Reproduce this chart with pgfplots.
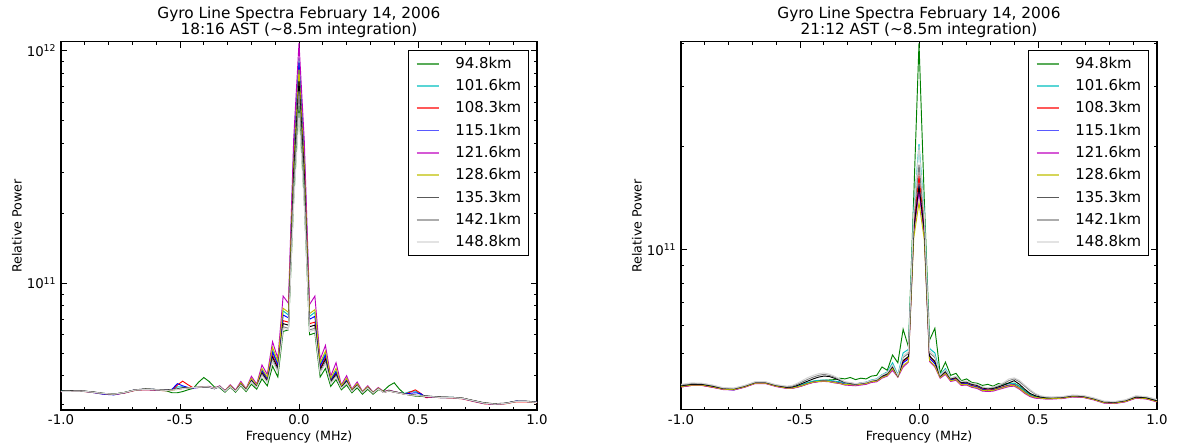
\documentclass[border=0pt]{standalone}
\usepackage{fontspec}
\setmainfont{DejaVu Sans}
\usepackage{pgfplots}
\usepackage{pgfplotstable}
\pgfplotsset{compat=1.18}

\definecolor{mplgreen}{rgb}{0,0.5,0}
\definecolor{mplcyan}{rgb}{0,0.75,0.75}
\definecolor{mplred}{rgb}{1,0,0}
\definecolor{mplblue}{rgb}{0,0,1}
\definecolor{mplmag}{rgb}{0.75,0,0.75}
\definecolor{mplyel}{rgb}{0.75,0.75,0}
\definecolor{mplgray}{rgb}{0.5,0.5,0.5}
\definecolor{mpllgray}{rgb}{0.83,0.83,0.83}

% 18:16 AST spectra, one column per altitude
\pgfplotstableread{
f g c r b m yl bk gr lg
-1.0000 3.43e10 3.44e10 3.42e10 3.43e10 3.42e10 3.43e10 3.44e10 3.43e10 3.42e10
-0.9556 3.44e10 3.45e10 3.44e10 3.44e10 3.43e10 3.44e10 3.45e10 3.44e10 3.43e10
-0.9111 3.44e10 3.44e10 3.43e10 3.44e10 3.44e10 3.44e10 3.44e10 3.43e10 3.44e10
-0.8667 3.40e10 3.40e10 3.39e10 3.39e10 3.40e10 3.40e10 3.41e10 3.40e10 3.40e10
-0.8222 3.36e10 3.35e10 3.34e10 3.33e10 3.35e10 3.35e10 3.36e10 3.35e10 3.36e10
-0.7778 3.33e10 3.33e10 3.32e10 3.31e10 3.32e10 3.33e10 3.33e10 3.34e10 3.33e10
-0.7333 3.38e10 3.39e10 3.37e10 3.38e10 3.38e10 3.39e10 3.39e10 3.38e10 3.39e10
-0.6889 3.47e10 3.48e10 3.46e10 3.47e10 3.48e10 3.47e10 3.48e10 3.48e10 3.47e10
-0.6444 3.50e10 3.50e10 3.48e10 3.49e10 3.50e10 3.50e10 3.51e10 3.50e10 3.49e10
-0.6000 3.49e10 3.49e10 3.46e10 3.47e10 3.49e10 3.48e10 3.49e10 3.49e10 3.48e10
-0.5556 3.44e10 3.47e10 3.45e10 3.46e10 3.47e10 3.46e10 3.48e10 3.47e10 3.46e10
-0.5333 3.38e10 3.48e10 3.46e10 3.50e10 3.48e10 3.47e10 3.49e10 3.48e10 3.47e10
-0.5111 3.38e10 3.58e10 3.65e10 3.70e10 3.50e10 3.49e10 3.51e10 3.50e10 3.49e10
-0.4889 3.42e10 3.58e10 3.79e10 3.62e10 3.53e10 3.52e10 3.55e10 3.53e10 3.52e10
-0.4667 3.48e10 3.56e10 3.66e10 3.56e10 3.55e10 3.54e10 3.55e10 3.54e10 3.54e10
-0.4444 3.53e10 3.56e10 3.55e10 3.54e10 3.56e10 3.56e10 3.56e10 3.56e10 3.56e10
-0.4222 3.75e10 3.57e10 3.56e10 3.56e10 3.57e10 3.57e10 3.57e10 3.57e10 3.57e10
-0.4000 3.93e10 3.57e10 3.57e10 3.57e10 3.59e10 3.58e10 3.57e10 3.58e10 3.58e10
-0.3778 3.78e10 3.58e10 3.57e10 3.57e10 3.60e10 3.58e10 3.58e10 3.58e10 3.58e10
-0.3556 3.58e10 3.52e10 3.52e10 3.52e10 3.54e10 3.53e10 3.52e10 3.52e10 3.53e10
-0.3333 3.55e10 3.60e10 3.60e10 3.59e10 3.62e10 3.60e10 3.60e10 3.59e10 3.59e10
-0.3111 3.40e10 3.44e10 3.44e10 3.43e10 3.45e10 3.44e10 3.44e10 3.43e10 3.43e10
-0.2889 3.57e10 3.62e10 3.61e10 3.61e10 3.66e10 3.63e10 3.60e10 3.59e10 3.59e10
-0.2667 3.40e10 3.45e10 3.44e10 3.44e10 3.47e10 3.45e10 3.44e10 3.43e10 3.43e10
-0.2444 3.62e10 3.71e10 3.69e10 3.70e10 3.78e10 3.73e10 3.68e10 3.66e10 3.65e10
-0.2222 3.42e10 3.49e10 3.48e10 3.49e10 3.52e10 3.50e10 3.48e10 3.47e10 3.46e10
-0.2000 3.68e10 3.86e10 3.82e10 3.84e10 3.98e10 3.90e10 3.80e10 3.77e10 3.76e10
-0.1778 3.50e10 3.62e10 3.60e10 3.61e10 3.68e10 3.64e10 3.59e10 3.57e10 3.56e10
-0.1556 3.88e10 4.25e10 4.15e10 4.20e10 4.45e10 4.30e10 4.10e10 4.05e10 4.00e10
-0.1333 3.62e10 3.90e10 3.84e10 3.88e10 4.05e10 3.95e10 3.80e10 3.76e10 3.74e10
-0.1111 4.40e10 5.15e10 4.90e10 5.05e10 5.60e10 5.30e10 4.80e10 4.70e10 4.60e10
-0.0889 3.95e10 4.50e10 4.35e10 4.45e10 4.75e10 4.60e10 4.30e10 4.20e10 4.15e10
-0.0667 6.20e10 7.60e10 6.90e10 7.30e10 8.80e10 7.80e10 6.70e10 6.50e10 6.40e10
-0.0444 6.30e10 7.30e10 6.80e10 7.10e10 8.20e10 7.50e10 6.60e10 6.40e10 6.30e10
-0.0222 2.30e11 3.70e11 3.20e11 3.50e11 4.20e11 3.30e11 3.00e11 2.70e11 2.20e11
0.0000 5.80e11 9.30e11 7.90e11 8.90e11 1.08e12 8.30e11 7.40e11 6.70e11 5.40e11
0.0222 2.25e11 3.60e11 3.10e11 3.40e11 4.10e11 3.25e11 2.95e11 2.65e11 2.15e11
0.0444 6.00e10 7.20e10 6.70e10 7.00e10 8.10e10 7.40e10 6.50e10 6.30e10 6.20e10
0.0667 6.10e10 7.50e10 6.80e10 7.20e10 8.80e10 7.70e10 6.60e10 6.40e10 6.30e10
0.0889 3.95e10 4.45e10 4.30e10 4.40e10 4.70e10 4.55e10 4.25e10 4.15e10 4.10e10
0.1111 4.30e10 5.00e10 4.80e10 4.90e10 5.40e10 5.10e10 4.70e10 4.60e10 4.50e10
0.1333 3.60e10 3.85e10 3.80e10 3.83e10 3.98e10 3.90e10 3.77e10 3.73e10 3.70e10
0.1556 3.85e10 4.20e10 4.10e10 4.15e10 4.55e10 4.30e10 4.05e10 4.00e10 3.95e10
0.1778 3.48e10 3.60e10 3.57e10 3.59e10 3.65e10 3.62e10 3.56e10 3.54e10 3.53e10
0.2000 3.65e10 3.85e10 3.80e10 3.83e10 4.00e10 3.90e10 3.78e10 3.75e10 3.73e10
0.2222 3.38e10 3.46e10 3.44e10 3.45e10 3.50e10 3.47e10 3.44e10 3.43e10 3.42e10
0.2444 3.55e10 3.68e10 3.65e10 3.67e10 3.76e10 3.70e10 3.64e10 3.62e10 3.61e10
0.2667 3.33e10 3.40e10 3.39e10 3.40e10 3.43e10 3.41e10 3.39e10 3.38e10 3.38e10
0.2889 3.50e10 3.58e10 3.56e10 3.57e10 3.62e10 3.59e10 3.56e10 3.55e10 3.54e10
0.3111 3.33e10 3.38e10 3.37e10 3.38e10 3.40e10 3.39e10 3.38e10 3.37e10 3.37e10
0.3333 3.48e10 3.53e10 3.52e10 3.53e10 3.56e10 3.54e10 3.52e10 3.51e10 3.51e10
0.3556 3.45e10 3.40e10 3.39e10 3.40e10 3.42e10 3.41e10 3.40e10 3.39e10 3.39e10
0.3778 3.62e10 3.45e10 3.44e10 3.45e10 3.47e10 3.45e10 3.45e10 3.44e10 3.44e10
0.4000 3.73e10 3.40e10 3.40e10 3.41e10 3.42e10 3.41e10 3.41e10 3.40e10 3.40e10
0.4222 3.50e10 3.37e10 3.37e10 3.38e10 3.38e10 3.38e10 3.38e10 3.37e10 3.37e10
0.4444 3.34e10 3.36e10 3.33e10 3.34e10 3.33e10 3.33e10 3.34e10 3.33e10 3.33e10
0.4667 3.30e10 3.42e10 3.40e10 3.36e10 3.31e10 3.31e10 3.32e10 3.31e10 3.31e10
0.4889 3.27e10 3.44e10 3.48e10 3.38e10 3.29e10 3.29e10 3.30e10 3.29e10 3.29e10
0.5111 3.26e10 3.32e10 3.36e10 3.35e10 3.28e10 3.28e10 3.29e10 3.28e10 3.28e10
0.5333 3.25e10 3.26e10 3.22e10 3.24e10 3.26e10 3.26e10 3.28e10 3.27e10 3.26e10
0.5556 3.24e10 3.25e10 3.23e10 3.24e10 3.25e10 3.25e10 3.26e10 3.26e10 3.25e10
0.6000 3.22e10 3.23e10 3.22e10 3.22e10 3.23e10 3.23e10 3.24e10 3.23e10 3.22e10
0.6444 3.22e10 3.23e10 3.21e10 3.22e10 3.22e10 3.22e10 3.23e10 3.23e10 3.22e10
0.6889 3.19e10 3.20e10 3.18e10 3.19e10 3.20e10 3.20e10 3.20e10 3.20e10 3.19e10
0.7333 3.12e10 3.12e10 3.10e10 3.11e10 3.12e10 3.12e10 3.13e10 3.12e10 3.12e10
0.7778 3.05e10 3.05e10 3.03e10 3.04e10 3.05e10 3.05e10 3.06e10 3.05e10 3.05e10
0.8222 3.02e10 3.02e10 3.01e10 3.02e10 3.02e10 3.03e10 3.03e10 3.02e10 3.02e10
0.8667 3.04e10 3.04e10 3.03e10 3.04e10 3.04e10 3.04e10 3.05e10 3.04e10 3.04e10
0.9111 3.10e10 3.10e10 3.09e10 3.11e10 3.10e10 3.10e10 3.11e10 3.10e10 3.10e10
0.9556 3.10e10 3.10e10 3.09e10 3.10e10 3.10e10 3.10e10 3.11e10 3.10e10 3.10e10
1.0000 3.07e10 3.07e10 3.06e10 3.08e10 3.07e10 3.07e10 3.08e10 3.07e10 3.07e10
}\early

% 21:12 AST spectra
\pgfplotstableread{
f g c r b m yl bk gr lg
-1.0000 4.00e10 4.01e10 3.98e10 3.99e10 3.98e10 3.99e10 4.01e10 4.03e10 4.05e10
-0.9556 4.04e10 4.05e10 4.02e10 4.03e10 4.02e10 4.03e10 4.05e10 4.07e10 4.09e10
-0.9111 4.04e10 4.05e10 4.02e10 4.03e10 4.02e10 4.03e10 4.05e10 4.07e10 4.08e10
-0.8667 4.00e10 4.00e10 3.97e10 3.98e10 3.97e10 3.98e10 4.00e10 4.02e10 4.03e10
-0.8222 3.94e10 3.94e10 3.92e10 3.92e10 3.91e10 3.92e10 3.94e10 3.95e10 3.96e10
-0.7778 3.93e10 3.93e10 3.91e10 3.90e10 3.90e10 3.91e10 3.93e10 3.94e10 3.95e10
-0.7333 4.00e10 4.00e10 3.98e10 3.98e10 3.97e10 3.98e10 4.00e10 4.01e10 4.02e10
-0.6889 4.10e10 4.10e10 4.08e10 4.08e10 4.07e10 4.08e10 4.10e10 4.11e10 4.12e10
-0.6444 4.10e10 4.10e10 4.08e10 4.08e10 4.07e10 4.08e10 4.10e10 4.11e10 4.12e10
-0.6000 4.02e10 4.02e10 4.00e10 4.00e10 3.99e10 4.00e10 4.02e10 4.03e10 4.04e10
-0.5556 3.97e10 3.97e10 3.95e10 3.95e10 3.94e10 3.95e10 3.97e10 3.99e10 4.00e10
-0.5333 3.97e10 3.97e10 3.95e10 3.95e10 3.94e10 3.95e10 3.98e10 4.00e10 4.02e10
-0.5111 3.99e10 4.00e10 3.98e10 3.98e10 3.97e10 3.98e10 4.02e10 4.05e10 4.08e10
-0.4889 4.04e10 4.05e10 4.02e10 4.02e10 4.01e10 4.02e10 4.08e10 4.12e10 4.16e10
-0.4667 4.09e10 4.10e10 4.07e10 4.07e10 4.06e10 4.07e10 4.14e10 4.19e10 4.24e10
-0.4444 4.13e10 4.14e10 4.11e10 4.11e10 4.10e10 4.11e10 4.20e10 4.25e10 4.30e10
-0.4222 4.15e10 4.16e10 4.13e10 4.13e10 4.12e10 4.13e10 4.25e10 4.30e10 4.35e10
-0.4000 4.16e10 4.17e10 4.14e10 4.14e10 4.13e10 4.14e10 4.28e10 4.33e10 4.37e10
-0.3778 4.17e10 4.16e10 4.13e10 4.13e10 4.12e10 4.13e10 4.27e10 4.30e10 4.34e10
-0.3556 4.18e10 4.14e10 4.11e10 4.11e10 4.09e10 4.10e10 4.22e10 4.25e10 4.28e10
-0.3333 4.22e10 4.12e10 4.09e10 4.09e10 4.07e10 4.08e10 4.16e10 4.18e10 4.20e10
-0.3111 4.20e10 4.08e10 4.05e10 4.05e10 4.03e10 4.04e10 4.10e10 4.11e10 4.12e10
-0.2889 4.24e10 4.08e10 4.05e10 4.05e10 4.02e10 4.04e10 4.08e10 4.09e10 4.10e10
-0.2667 4.18e10 4.06e10 4.04e10 4.04e10 4.01e10 4.03e10 4.06e10 4.06e10 4.07e10
-0.2444 4.22e10 4.09e10 4.06e10 4.06e10 4.03e10 4.05e10 4.08e10 4.08e10 4.09e10
-0.2222 4.20e10 4.11e10 4.08e10 4.08e10 4.05e10 4.07e10 4.10e10 4.10e10 4.11e10
-0.2000 4.28e10 4.17e10 4.13e10 4.13e10 4.10e10 4.12e10 4.15e10 4.15e10 4.16e10
-0.1778 4.30e10 4.20e10 4.15e10 4.15e10 4.12e10 4.14e10 4.17e10 4.18e10 4.19e10
-0.1556 4.55e10 4.32e10 4.26e10 4.25e10 4.22e10 4.24e10 4.28e10 4.30e10 4.31e10
-0.1333 4.45e10 4.40e10 4.33e10 4.32e10 4.28e10 4.30e10 4.35e10 4.37e10 4.38e10
-0.1111 4.93e10 4.68e10 4.55e10 4.52e10 4.45e10 4.50e10 4.57e10 4.60e10 4.62e10
-0.0889 4.68e10 4.32e10 4.28e10 4.27e10 4.25e10 4.26e10 4.28e10 4.30e10 4.30e10
-0.0667 5.86e10 5.00e10 4.72e10 4.68e10 4.55e10 4.60e10 4.75e10 4.85e10 4.90e10
-0.0444 5.21e10 5.12e10 4.85e10 4.80e10 4.70e10 4.72e10 4.88e10 4.98e10 5.05e10
-0.0222 1.42e11 1.30e11 1.18e11 1.13e11 1.12e11 1.08e11 1.15e11 1.22e11 1.28e11
0.0000 4.00e11 2.03e11 1.64e11 1.52e11 1.48e11 1.37e11 1.53e11 1.77e11 2.00e11
0.0222 1.40e11 1.29e11 1.17e11 1.12e11 1.11e11 1.07e11 1.14e11 1.21e11 1.27e11
0.0444 5.45e10 5.15e10 4.88e10 4.82e10 4.72e10 4.75e10 4.90e10 5.00e10 5.08e10
0.0667 5.90e10 5.00e10 4.70e10 4.65e10 4.55e10 4.58e10 4.72e10 4.85e10 4.90e10
0.0889 4.36e10 4.32e10 4.27e10 4.26e10 4.22e10 4.24e10 4.28e10 4.30e10 4.31e10
0.1111 4.70e10 4.50e10 4.40e10 4.38e10 4.33e10 4.36e10 4.42e10 4.45e10 4.46e10
0.1333 4.30e10 4.22e10 4.18e10 4.17e10 4.13e10 4.15e10 4.20e10 4.22e10 4.23e10
0.1556 4.36e10 4.26e10 4.22e10 4.20e10 4.16e10 4.18e10 4.24e10 4.26e10 4.27e10
0.1778 4.15e10 4.11e10 4.07e10 4.06e10 4.02e10 4.04e10 4.10e10 4.12e10 4.13e10
0.2000 4.20e10 4.12e10 4.08e10 4.07e10 4.03e10 4.05e10 4.11e10 4.13e10 4.14e10
0.2222 4.10e10 4.06e10 4.02e10 4.01e10 3.97e10 3.99e10 4.05e10 4.07e10 4.08e10
0.2444 4.08e10 4.03e10 3.99e10 3.98e10 3.94e10 3.96e10 4.02e10 4.04e10 4.05e10
0.2667 4.02e10 3.96e10 3.92e10 3.91e10 3.87e10 3.89e10 3.95e10 3.97e10 3.98e10
0.2889 4.05e10 3.94e10 3.90e10 3.89e10 3.86e10 3.88e10 3.93e10 3.95e10 3.96e10
0.3111 4.00e10 3.95e10 3.91e10 3.90e10 3.87e10 3.89e10 3.94e10 3.96e10 3.98e10
0.3333 4.07e10 3.99e10 3.95e10 3.94e10 3.91e10 3.93e10 3.98e10 4.01e10 4.03e10
0.3556 4.05e10 4.03e10 3.99e10 3.98e10 3.95e10 3.97e10 4.03e10 4.07e10 4.10e10
0.3778 4.08e10 4.07e10 4.03e10 4.02e10 3.99e10 4.01e10 4.09e10 4.15e10 4.20e10
0.4000 4.08e10 4.08e10 4.04e10 4.03e10 4.00e10 4.02e10 4.15e10 4.20e10 4.23e10
0.4222 4.00e10 3.99e10 3.95e10 3.94e10 3.92e10 3.94e10 4.05e10 4.12e10 4.16e10
0.4444 3.88e10 3.87e10 3.84e10 3.83e10 3.81e10 3.83e10 3.92e10 4.00e10 4.03e10
0.4667 3.78e10 3.78e10 3.75e10 3.75e10 3.73e10 3.75e10 3.81e10 3.88e10 3.91e10
0.4889 3.73e10 3.73e10 3.71e10 3.71e10 3.69e10 3.71e10 3.75e10 3.79e10 3.81e10
0.5111 3.71e10 3.71e10 3.69e10 3.69e10 3.68e10 3.69e10 3.72e10 3.74e10 3.75e10
0.5333 3.70e10 3.70e10 3.68e10 3.68e10 3.67e10 3.68e10 3.70e10 3.72e10 3.73e10
0.5556 3.70e10 3.70e10 3.68e10 3.68e10 3.67e10 3.68e10 3.70e10 3.71e10 3.72e10
0.6000 3.71e10 3.71e10 3.69e10 3.69e10 3.68e10 3.69e10 3.71e10 3.72e10 3.73e10
0.6444 3.75e10 3.75e10 3.73e10 3.73e10 3.72e10 3.73e10 3.75e10 3.76e10 3.77e10
0.6889 3.74e10 3.74e10 3.72e10 3.72e10 3.71e10 3.72e10 3.74e10 3.75e10 3.76e10
0.7333 3.68e10 3.68e10 3.66e10 3.66e10 3.65e10 3.66e10 3.68e10 3.69e10 3.70e10
0.7778 3.60e10 3.60e10 3.58e10 3.58e10 3.57e10 3.58e10 3.60e10 3.61e10 3.62e10
0.8222 3.59e10 3.59e10 3.57e10 3.57e10 3.56e10 3.57e10 3.59e10 3.60e10 3.61e10
0.8667 3.63e10 3.63e10 3.61e10 3.61e10 3.60e10 3.61e10 3.63e10 3.64e10 3.65e10
0.9111 3.72e10 3.72e10 3.70e10 3.70e10 3.69e10 3.70e10 3.72e10 3.74e10 3.75e10
0.9556 3.70e10 3.70e10 3.68e10 3.68e10 3.67e10 3.68e10 3.70e10 3.72e10 3.73e10
1.0000 3.63e10 3.63e10 3.61e10 3.61e10 3.60e10 3.61e10 3.63e10 3.65e10 3.66e10
}\late

\pgfkeys{/pgf/number format/assume math mode=true}

\pgfplotsset{
  log number format basis/.code 2 args={#1\textsuperscript{\pgfmathprintnumber{#2}}},
  legend image code/.code={\draw[#1, line width=1.3pt, opacity=0.65] (0pt,0pt) -- (16.8pt,0pt);},
  every axis/.append style={
    scale only axis, width=357pt, height=276pt,
    xmin=-1, xmax=1,
    xtick={-1,-0.5,0,0.5,1}, minor x tick num=4,
    tick align=inside,
    major tick length=4.5pt, minor tick length=2.5pt,
    axis line style={line width=0.8pt},
    xlabel={Frequency (MHz)}, ylabel={Relative Power},
    no markers,
    legend cell align=left,
  },
  xticklabel style={/pgf/number format/fixed, /pgf/number format/fixed zerofill,
    /pgf/number format/precision=1},
  tick style={black, line width=0.5pt},
  ticklabel style={font=\fontsize{10}{12}\selectfont},
  title style={font=\fontsize{11.5}{12}\selectfont, align=center,
    at={(0.5,1)}, anchor=south, inner sep=0pt, yshift=-3pt},
  label style={font=\fontsize{9.5}{11}\selectfont},
  xlabel style={at={(axis description cs:0.5,0)}, anchor=base, yshift=-23pt},
  ylabel style={at={(axis description cs:0,0.5)}, anchor=center, yshift=33pt},
  every axis plot/.append style={line width=0.7pt},
  legend style={at={(1,1)}, anchor=north east, xshift=-6pt, yshift=-6pt,
    draw=black, line width=0.6pt, font=\fontsize{11.2}{13}\selectfont,
    inner xsep=5.5pt, inner ysep=5pt, row sep=6.7pt, column sep=11.5pt,
    nodes={inner sep=0pt}},
}

\newcommand{\gyroplots}[1]{%
  \addplot[mplgreen] table[x=f, y=g] {#1};
  \addplot[mplcyan] table[x=f, y=c] {#1};
  \addplot[mplred] table[x=f, y=r] {#1};
  \addplot[mplblue] table[x=f, y=b] {#1};
  \addplot[mplmag] table[x=f, y=m] {#1};
  \addplot[mplyel] table[x=f, y=yl] {#1};
  \addplot[black] table[x=f, y=bk] {#1};
  \addplot[mplgray] table[x=f, y=gr] {#1};
  \addplot[mpllgray] table[x=f, y=lg] {#1};
  \legend{94.8km,101.6km,108.3km,115.1km,121.6km,128.6km,135.3km,142.1km,148.8km}
}

\begin{document}
\begin{tikzpicture}
\useasboundingbox (-45.75pt,-27pt) rectangle (837.75pt,307.5pt);
\begin{semilogyaxis}[ymin=2.85e10, ymax=1.09e12,
  ytick={1e11,1e12},
  minor ytick={3e10,4e10,5e10,6e10,7e10,8e10,9e10,2e11,3e11,4e11,5e11,6e11,7e11,8e11,9e11},
  title={Gyro Line Spectra February 14, 2006\\18:16 AST (\textasciitilde8.5m integration)}]
\gyroplots{\early}
\end{semilogyaxis}
\begin{semilogyaxis}[at={(465pt,0pt)}, ymin=3.41e10, ymax=4.03e11,
  ytick={1e11},
  minor ytick={4e10,5e10,6e10,7e10,8e10,9e10,2e11,3e11,4e11},
  title={Gyro Line Spectra February 14, 2006\\21:12 AST (\textasciitilde8.5m integration)}]
\gyroplots{\late}
\end{semilogyaxis}
\end{tikzpicture}
\end{document}
